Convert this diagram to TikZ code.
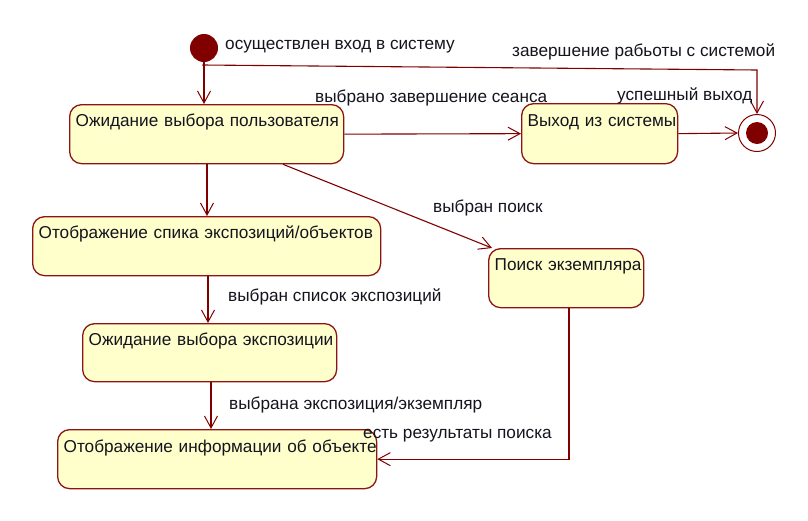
\documentclass[tikz,border=0pt]{standalone}
\usepackage{fontspec}
\setmainfont{Liberation Sans}
\usetikzlibrary{arrows.meta}
\definecolor{dred}{RGB}{128,0,0}
\definecolor{bred}{RGB}{140,20,20}
\definecolor{yel}{RGB}{255,255,204}
\definecolor{txt}{RGB}{20,20,30}
\tikzset{
  state/.style={draw=bred, fill=yel, line width=1.3pt, rounded corners=12pt,
    inner sep=0pt, inner xsep=6pt, align=left, anchor=north west,
    font=\fontsize{17.2}{20}\selectfont, text=txt},
  conn/.style={draw=dred, line width=1.1pt, -{Straight Barb[length=12pt,width=13pt,line width=1pt]}},
  plain/.style={draw=dred, line width=1.1pt},
  lbl/.style={anchor=base west, inner sep=0pt, font=\fontsize{17.2}{20}\selectfont, text=txt}
}
\begin{document}
\begin{tikzpicture}[x=1pt,y=-1pt]
\useasboundingbox (0,0) rectangle (808,520);
% pseudo-states
\node[circle, fill=dred, minimum size=28pt, inner sep=0pt] (init) at (204,48) {};
\node[circle, draw=dred, fill=white, line width=1pt, minimum size=37pt, inner sep=0pt] (fin) at (757,133) {};
\node[circle, fill=dred, minimum size=22pt, inner sep=0pt] (findot) at (fin.center) {};
% states
\node[state, text width=262pt, text height=22pt, text depth=37pt] (b1) at (69,104) {\mbox{Ожидание выбора пользователя}};
\node[state, text width=144pt, text height=23pt, text depth=37pt] (bx) at (521,103) {\mbox{Выход из системы}};
\node[state, text width=336pt, text height=22pt, text depth=37pt] (b2) at (32,216) {\mbox{Отображение спика экспозиций/объектов}};
\node[state, text width=143pt, text height=22pt, text depth=37pt] (bp) at (488,248) {\mbox{Поиск экземпляра}};
\node[state, text width=242pt, text height=22pt, text depth=36pt] (b3) at (82,323) {\mbox{Ожидание выбора экспозиции}};
\node[state, text width=307pt, text height=23pt, text depth=36pt] (b4) at (57,429) {\mbox{Отображение информации об объекте}};
% connectors
\coordinate (c1) at (203,65);
\coordinate (c2) at (757,70);
\draw[conn] (init) -- (init |- b1.north);
\draw[conn] (init.south) -- (c1) -- (c2) -- (fin.north);
\draw[conn] (b1.east) -- (bx.west);
\draw[conn] (bx.east) -- (fin.west);
\draw[conn] ([xshift=138pt]b1.south west) -- ([xshift=175pt]b2.north west);
\draw[conn] ([xshift=214pt]b1.south west) -- ([xshift=4pt]bp.north west);
\draw[conn] ([xshift=176pt]b2.south west) -- ([xshift=126pt]b3.north west);
\draw[conn] ([xshift=129pt]b3.south west) -- ([xshift=154pt]b4.north west);
\draw[conn] ([xshift=81pt]bp.south west) |- (b4.east);
% labels
\node[lbl] (l1) at (225,49) {осуществлен вход в систему};
\node[lbl] (l2) at (512,56) {завершение рабьоты с системой};
\node[lbl] (l3) at (315,102) {выбрано завершение сеанса};
\node[lbl] (l4) at (617,100) {успешный выход};
\node[lbl] (l5) at (433,212) {выбран поиск};
\node[lbl] (l6) at (228,301) {выбран список экспозиций};
\node[lbl] (l7) at (229,409) {выбрана экспозиция/экземпляр};
\node[lbl] (l8) at (363,438) {есть результаты поиска};
\end{tikzpicture}
\end{document}
